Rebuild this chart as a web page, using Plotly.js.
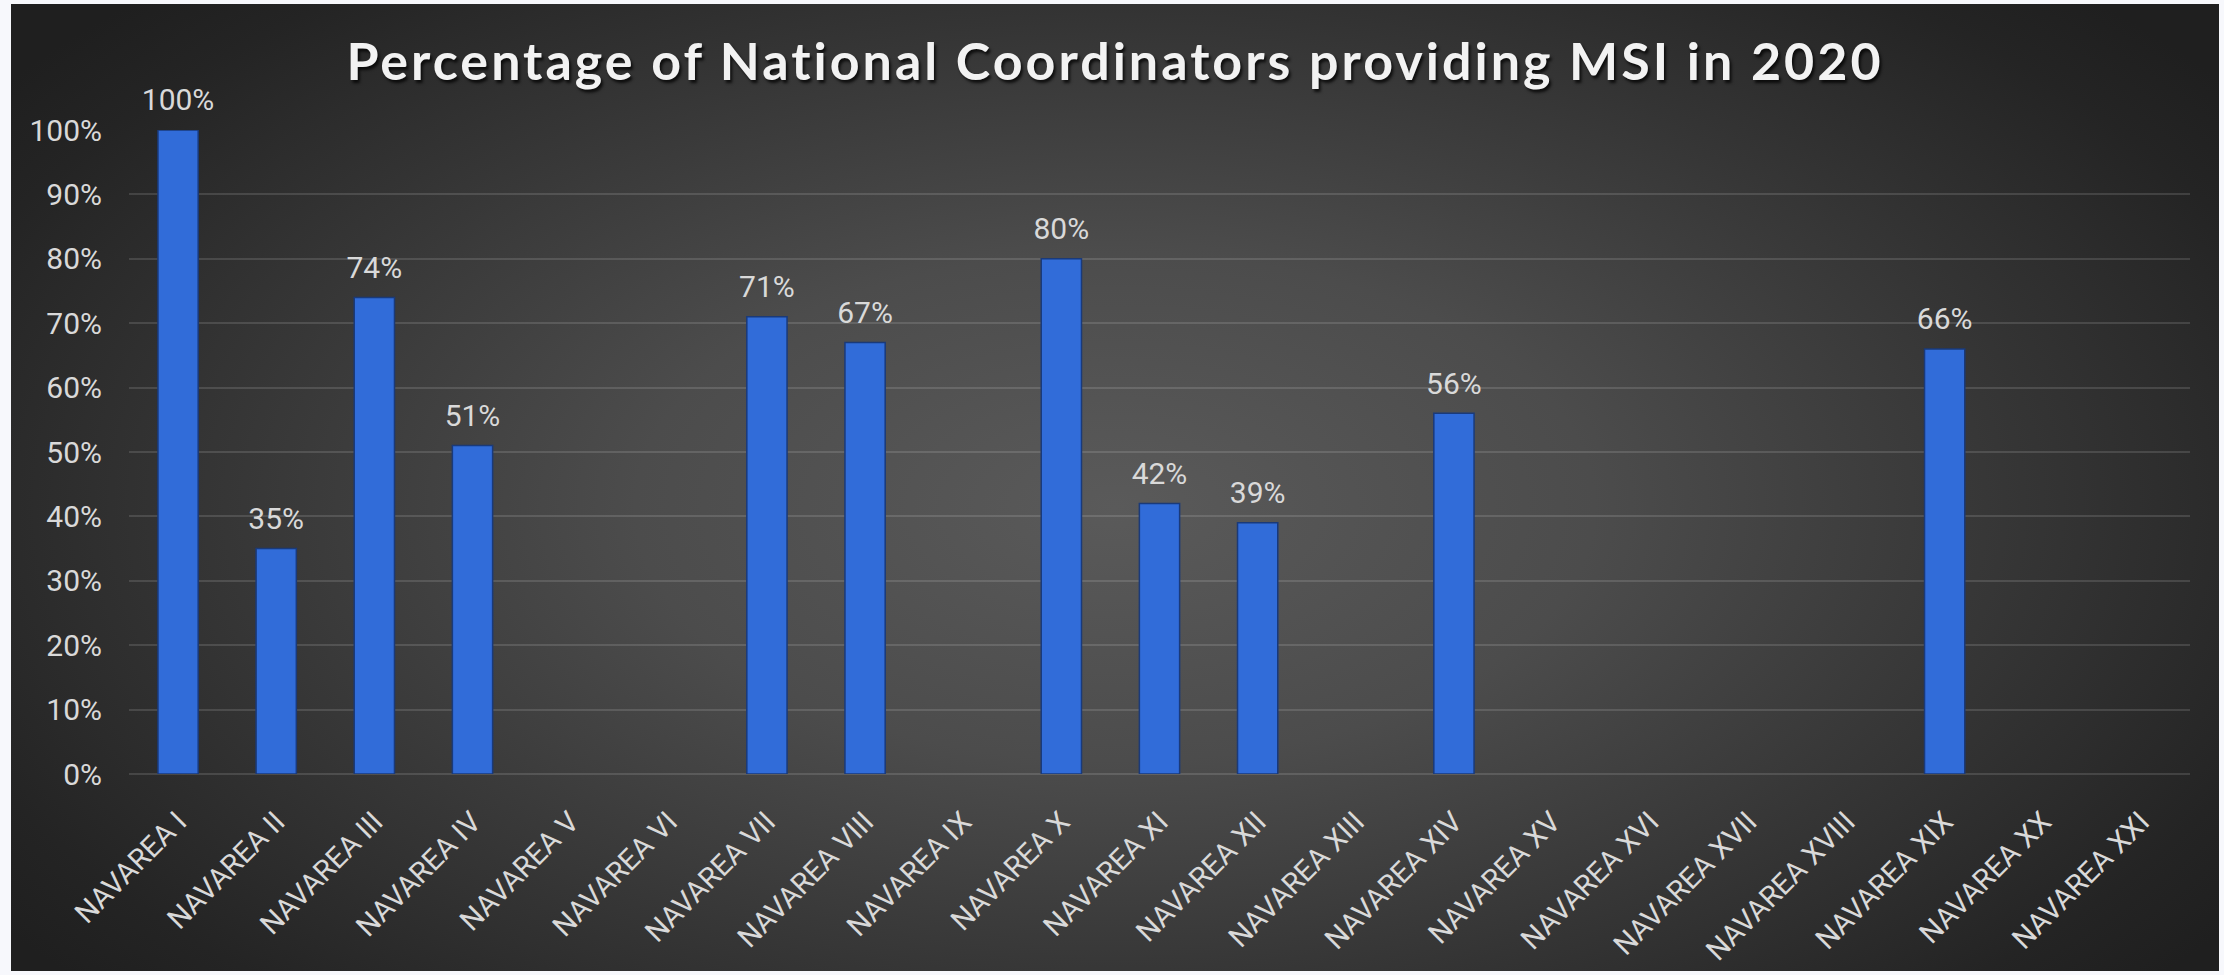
<!DOCTYPE html>
<html>
<head>
<meta charset="utf-8">
<script src="https://cdn.plot.ly/plotly-3.0.1.min.js"></script>
<style>
  html, body { margin: 0; padding: 0; background: #f7f8fc; width: 2224px; height: 975px; overflow: hidden; }
  #chart {
    position: absolute; left: 11px; top: 4px; width: 2208px; height: 967px;
    background: radial-gradient(ellipse 62% 75% at 50% 52%, #5a5a5a 0%, #4c4c4c 35%, #363636 65%, #242424 90%, #1f1f1f 100%);
  }
  #chart .gtitle { letter-spacing: 3px; }
</style>
</head>
<body>
<div id="chart"></div>
<script>
const categories = ["NAVAREA I","NAVAREA II","NAVAREA III","NAVAREA IV","NAVAREA V","NAVAREA VI","NAVAREA VII","NAVAREA VIII","NAVAREA IX","NAVAREA X","NAVAREA XI","NAVAREA XII","NAVAREA XIII","NAVAREA XIV","NAVAREA XV","NAVAREA XVI","NAVAREA XVII","NAVAREA XVIII","NAVAREA XIX","NAVAREA XX","NAVAREA XXI"];
const values = [1.00, 0.35, 0.74, 0.51, null, null, 0.71, 0.67, null, 0.80, 0.42, 0.39, null, 0.56, null, null, null, null, 0.66, null, null];
const yTickVals = [0,0.1,0.2,0.3,0.4,0.5,0.6,0.7,0.8,0.9,1.0];
const yTickText = ["0%","10%","20%","30%","40%","50%","60%","70%","80%","90%","100%"];
const titleText = "Percentage of National Coordinators providing MSI in 2020";

const labelFont = "'Liberation Sans Narrow', 'Arial Narrow', Roboto, sans-serif";

const bars = {
  type: 'bar', x: categories, y: values,
  marker: { color: '#316cd9', line: { color: '#1a3a7a', width: 1.5 } },
  hoverinfo: 'x+y', showlegend: false
};
const labels = {
  type: 'scatter', mode: 'markers+text', x: categories, y: values,
  marker: { size: 18, color: 'rgba(0,0,0,0)' },
  texttemplate: '%{y:.0%}', textposition: 'top center',
  textfont: { family: labelFont, size: 30, color: '#d9d9d9' },
  cliponaxis: false, showlegend: false, hoverinfo: 'skip'
};

const layout = {
  width: 2208, height: 967,
  paper_bgcolor: 'rgba(0,0,0,0)', plot_bgcolor: 'rgba(0,0,0,0)',
  margin: { l: 118, r: 29, t: 126, b: 197 },
  bargap: 0.59,
  title: {
    text: titleText, x: 0.5, xanchor: 'center', y: 0.94, yanchor: 'middle',
    font: { family: 'Lato, sans-serif', size: 52, color: '#f2f2f2', weight: 'bold', shadow: '2px 3px 3px rgba(0,0,0,0.75)' }
  },
  xaxis: {
    type: 'category', range: [-0.5, categories.length - 0.5], autorange: false,
    tickangle: -45, showgrid: false, showline: false, ticks: '',
    tickfont: { family: labelFont, size: 29, color: '#d9d9d9' },
    ticklabelstandoff: 24, fixedrange: true
  },
  yaxis: {
    range: [0, 1], autorange: false, tickvals: yTickVals, ticktext: yTickText,
    showgrid: true, gridcolor: 'rgba(255,255,255,0.13)', gridwidth: 2,
    zeroline: true, zerolinecolor: 'rgba(255,255,255,0.13)', zerolinewidth: 2,
    showline: false, ticks: '',
    tickfont: { family: labelFont, size: 30, color: '#d9d9d9' },
    ticklabelstandoff: 26, fixedrange: true
  },
  font: { family: labelFont, color: '#d9d9d9' }
};

Plotly.newPlot('chart', [bars, labels], layout, { displayModeBar: false, staticPlot: true });
</script>
</body>
</html>
